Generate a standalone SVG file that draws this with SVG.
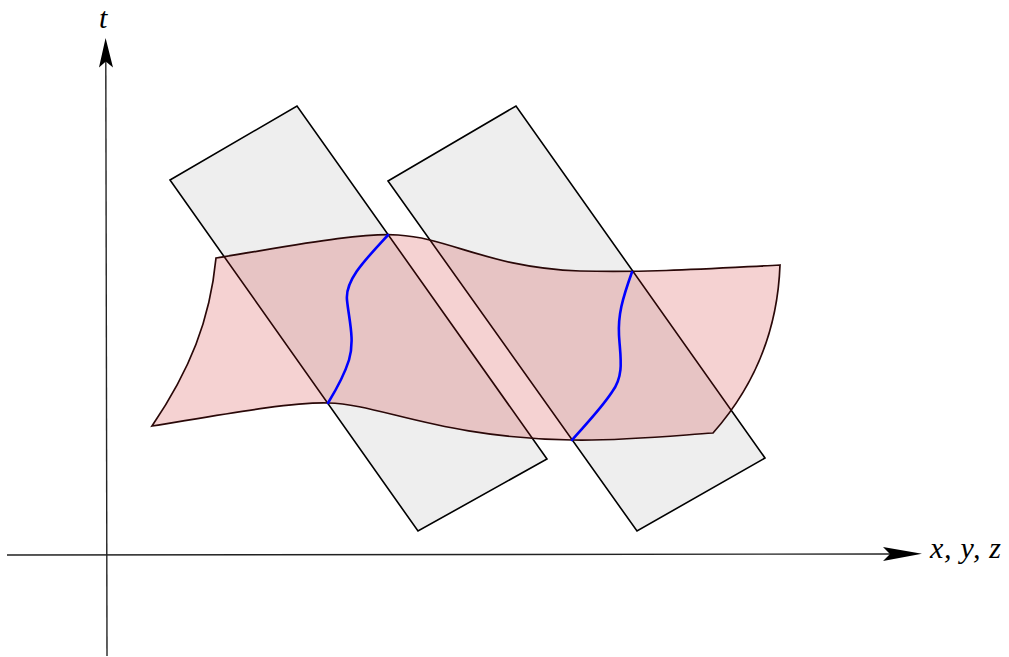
<svg xmlns="http://www.w3.org/2000/svg" width="1009" height="657" viewBox="0 0 1009 657">
<style>
.axis{stroke:#222;stroke-width:1.4;fill:none}
.head{fill:#000;stroke:none}
.slab{fill:#eeeeee;stroke:#000;stroke-width:1.6;stroke-linejoin:miter}
.surf{fill:rgb(204,30,30);fill-opacity:0.2;stroke:#2a0808;stroke-width:1.7;stroke-linejoin:miter}
.wl{fill:none;stroke:#0000ff;stroke-width:2.6;stroke-linecap:round}
.lbl{font-family:"Liberation Serif","DejaVu Serif",serif;font-style:italic;font-size:30px;fill:#000}
</style>
<rect x="0" y="0" width="1009" height="657" fill="#fff"/>
<g id="axes">
<line class="axis" x1="107" y1="656" x2="105.8" y2="60"/>
<path class="head" d="M105.6,38 L113,67.5 L105.8,61.5 L99,67.5 Z"/>
<line class="axis" x1="7" y1="555" x2="892" y2="554"/>
<path class="head" d="M922,553.8 L883,547 L890,554 L883,561 Z"/>
<text class="lbl" x="99" y="28">t</text>
<text class="lbl" x="930" y="558" textLength="71" lengthAdjust="spacing">x, y, z</text>
</g>
<g id="slab1">
<path class="slab" d="M170,180 L297,106 L547,459 L418,531 Z"/>
</g>
<g id="slab2">
<path class="slab" d="M388,181 L516,106 L765,458 L637,531 Z"/>
</g>
<g id="surface">
<path class="surf" d="M216,258 C280,248 360,232 398,235 C450,238 490,268 580,271 C650,273 720,268 780,265 C778,320 760,380 713,433 C670,436 620,441 572,440 C440,438 380,404 328,403 C290,402 220,415 152,426 C190,370 210,320 216,258 Z"/>
</g>
<g id="connectors">
<path class="wl" d="M388,235 C365,260 345,280 347,300 C349,320 355,340 349,360 C344,376 336,390 328,403"/>
<path class="wl" d="M632,272 C622,300 618,315 619,335 C620,355 625,375 612,392 C600,410 585,425 572,440"/>
</g>
</svg>
